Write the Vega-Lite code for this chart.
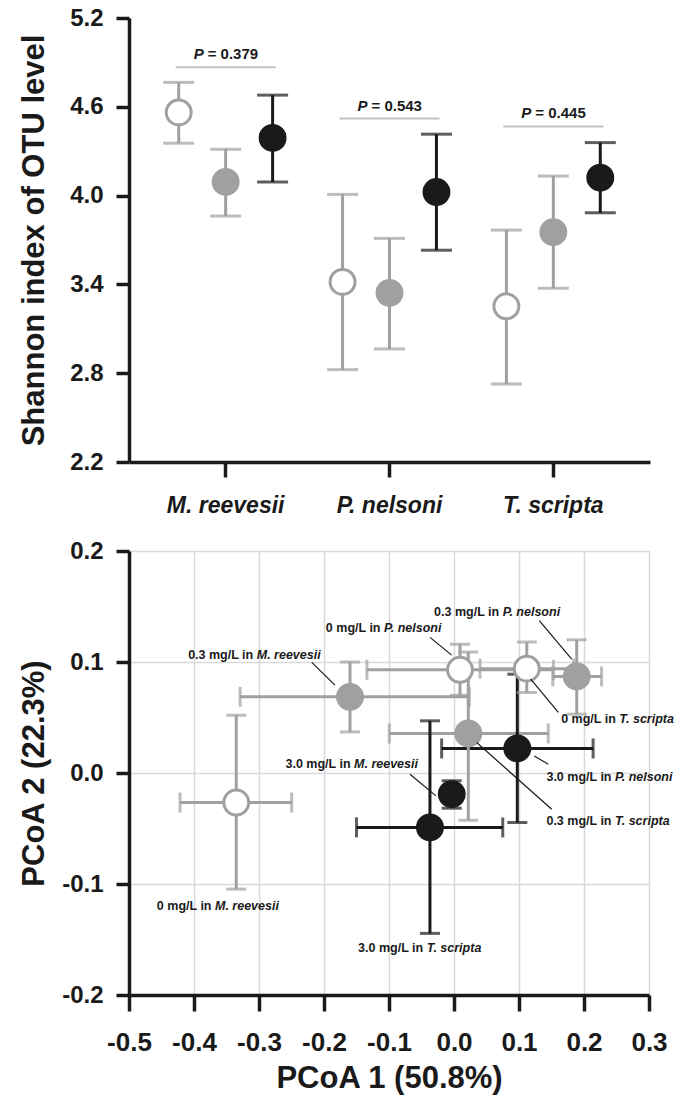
{
  "$schema": "https://vega.github.io/schema/vega-lite/v6.json",
  "padding": {"left": 18, "top": 6, "right": 10, "bottom": 4},
  "spacing": 89,
  "bounds": "flush",
  "config": {
    "font": "Liberation Sans",
    "view": {"stroke": null},
    "axis": {
      "domainColor": "#1a1a1a",
      "domainWidth": 3.5,
      "tickColor": "#1a1a1a",
      "tickWidth": 3.5,
      "labelColor": "#1a1a1a",
      "labelFontWeight": "bold",
      "titleColor": "#1a1a1a",
      "titleFontWeight": "bold",
      "labelFont": "Liberation Sans",
      "titleFont": "Liberation Sans",
      "labelFlush": false
    }
  },
  "datasets": {
    "shannon": [
      {"species": "M. reevesii", "group": "0 mg/L", "mean": 4.562, "lo": 4.354, "hi": 4.765},
      {"species": "M. reevesii", "group": "0.3 mg/L", "mean": 4.092, "lo": 3.862, "hi": 4.313},
      {"species": "M. reevesii", "group": "3.0 mg/L", "mean": 4.39, "lo": 4.092, "hi": 4.679},
      {"species": "P. nelsoni", "group": "0 mg/L", "mean": 3.417, "lo": 2.824, "hi": 4.008},
      {"species": "P. nelsoni", "group": "0.3 mg/L", "mean": 3.343, "lo": 2.964, "hi": 3.711},
      {"species": "P. nelsoni", "group": "3.0 mg/L", "mean": 4.024, "lo": 3.631, "hi": 4.415},
      {"species": "T. scripta", "group": "0 mg/L", "mean": 3.252, "lo": 2.727, "hi": 3.767},
      {"species": "T. scripta", "group": "0.3 mg/L", "mean": 3.753, "lo": 3.374, "hi": 4.132},
      {"species": "T. scripta", "group": "3.0 mg/L", "mean": 4.121, "lo": 3.884, "hi": 4.358}
    ],
    "pvals": [
      {"species": "M. reevesii", "ptext": "= 0.379", "line_y": 4.868, "text_y": 4.956},
      {"species": "P. nelsoni", "ptext": "= 0.543", "line_y": 4.521, "text_y": 4.606},
      {"species": "T. scripta", "ptext": "= 0.445", "line_y": 4.467, "text_y": 4.555}
    ],
    "pcoa": [
      {"name": "0 mg/L in M. reevesii", "group": "0 mg/L", "x": -0.335, "y": -0.0266, "xlo": -0.4215, "xhi": -0.2497, "ylo": -0.1046, "yhi": 0.052},
      {"name": "0.3 mg/L in M. reevesii", "group": "0.3 mg/L", "x": -0.16, "y": 0.0686, "xlo": -0.329, "xhi": 0.0235, "ylo": 0.037, "yhi": 0.1},
      {"name": "3.0 mg/L in M. reevesii", "group": "3.0 mg/L", "x": -0.0035, "y": -0.019, "xlo": -0.006, "xhi": -0.001, "ylo": -0.0317, "yhi": -0.007},
      {"name": "0 mg/L in P. nelsoni", "group": "0 mg/L", "x": 0.0092, "y": 0.093, "xlo": -0.134, "xhi": 0.153, "ylo": 0.07, "yhi": 0.116},
      {"name": "0.3 mg/L in P. nelsoni", "group": "0.3 mg/L", "x": 0.1888, "y": 0.087, "xlo": 0.152, "xhi": 0.227, "ylo": 0.053, "yhi": 0.12},
      {"name": "3.0 mg/L in P. nelsoni", "group": "3.0 mg/L", "x": 0.0974, "y": 0.0221, "xlo": -0.019, "xhi": 0.214, "ylo": -0.0446, "yhi": 0.089},
      {"name": "0 mg/L in T. scripta", "group": "0 mg/L", "x": 0.112, "y": 0.094, "xlo": 0.04, "xhi": 0.184, "ylo": 0.0725, "yhi": 0.118},
      {"name": "0.3 mg/L in T. scripta", "group": "0.3 mg/L", "x": 0.022, "y": 0.0356, "xlo": -0.0995, "xhi": 0.145, "ylo": -0.0426, "yhi": 0.109},
      {"name": "3.0 mg/L in T. scripta", "group": "3.0 mg/L", "x": -0.037, "y": -0.049, "xlo": -0.15, "xhi": 0.075, "ylo": -0.1445, "yhi": 0.047}
    ],
    "labels": [
      {"prefix": "0.3 mg/L in", "species": "M. reevesii", "lx": -0.3035, "ly": 0.1062},
      {"prefix": "0 mg/L in", "species": "P. nelsoni", "lx": -0.1077, "ly": 0.1303},
      {"prefix": "0.3 mg/L in", "species": "P. nelsoni", "lx": 0.0749, "ly": 0.1447},
      {"prefix": "0 mg/L in", "species": "T. scripta", "lx": 0.2543, "ly": 0.0485},
      {"prefix": "3.0 mg/L in", "species": "P. nelsoni", "lx": 0.2477, "ly": -0.0035},
      {"prefix": "0.3 mg/L in", "species": "T. scripta", "lx": 0.2477, "ly": -0.0432},
      {"prefix": "3.0 mg/L in", "species": "M. reevesii", "lx": -0.1538, "ly": 0.0079},
      {"prefix": "3.0 mg/L in", "species": "T. scripta", "lx": -0.042, "ly": -0.1574},
      {"prefix": "0 mg/L in", "species": "M. reevesii", "lx": -0.3677, "ly": -0.1196}
    ],
    "leaders": [
      {"x1": -0.2189, "y1": 0.0996, "x2": -0.1831, "y2": 0.0792},
      {"x1": -0.0369, "y1": 0.1222, "x2": -0.0035, "y2": 0.1062},
      {"x1": 0.1312, "y1": 0.1372, "x2": 0.1811, "y2": 0.1026},
      {"x1": 0.118, "y1": 0.0846, "x2": 0.1605, "y2": 0.0546},
      {"x1": 0.1235, "y1": 0.0154, "x2": 0.1451, "y2": 0.0079},
      {"x1": 0.0349, "y1": 0.0275, "x2": 0.1503, "y2": -0.0326},
      {"x1": -0.0677, "y1": -0.0011, "x2": -0.0277, "y2": -0.0206}
    ]
  },
  "vconcat": [
    {
      "width": 521,
      "height": 444,
      "layer": [
        {
          "data": {"name": "shannon"},
          "mark": {"type": "rule", "strokeWidth": 3},
          "encoding": {
            "x": {
              "field": "species", "type": "nominal",
              "sort": ["M. reevesii", "P. nelsoni", "T. scripta"],
              "scale": {"type": "band", "paddingInner": 0, "paddingOuter": 0.09},
              "axis": {"title": null, "labelAngle": 0, "labelFontSize": 23, "labelFontStyle": "italic", "tickSize": 15, "labelPadding": 17, "grid": false}
            },
            "xOffset": {"field": "group", "type": "nominal", "sort": ["0 mg/L", "0.3 mg/L", "3.0 mg/L"], "scale": {"type": "band", "paddingInner": 0, "paddingOuter": 0.245}},
            "y": {
              "field": "lo", "type": "quantitative",
              "scale": {"domain": [2.2, 5.2], "nice": false, "zero": false},
              "axis": {"title": "Shannon index of OTU level", "titleFontSize": 31, "labelFontSize": 24, "values": [2.2, 2.8, 3.4, 4.0, 4.6, 5.2], "format": ".1f", "tickSize": 13, "labelPadding": 13, "titlePadding": 19, "grid": false}
            },
            "y2": {"field": "hi"},
            "color": {"field": "group", "type": "nominal", "scale": {"domain": ["0 mg/L", "0.3 mg/L", "3.0 mg/L"], "range": ["#a0a0a0", "#a0a0a0", "#1a1a1a"]}, "legend": null}
          }
        },
        {
          "data": {"name": "shannon"},
          "mark": {"type": "tick", "orient": "horizontal", "size": 31, "thickness": 3},
          "encoding": {
            "x": {"field": "species", "type": "nominal"},
            "xOffset": {"field": "group", "type": "nominal"},
            "y": {"field": "lo", "type": "quantitative"},
            "color": {"field": "group", "type": "nominal", "legend": null}
          }
        },
        {
          "data": {"name": "shannon"},
          "mark": {"type": "tick", "orient": "horizontal", "size": 31, "thickness": 3},
          "encoding": {
            "x": {"field": "species", "type": "nominal"},
            "xOffset": {"field": "group", "type": "nominal"},
            "y": {"field": "hi", "type": "quantitative"},
            "color": {"field": "group", "type": "nominal", "legend": null}
          }
        },
        {
          "data": {"name": "shannon"},
          "mark": {"type": "point", "shape": "circle", "size": 620, "strokeWidth": 3, "filled": true, "opacity": 1},
          "encoding": {
            "x": {"field": "species", "type": "nominal"},
            "xOffset": {"field": "group", "type": "nominal"},
            "y": {"field": "mean", "type": "quantitative"},
            "fill": {"field": "group", "type": "nominal", "scale": {"domain": ["0 mg/L", "0.3 mg/L", "3.0 mg/L"], "range": ["#ffffff", "#a0a0a0", "#1a1a1a"]}, "legend": null},
            "stroke": {"field": "group", "type": "nominal", "scale": {"domain": ["0 mg/L", "0.3 mg/L", "3.0 mg/L"], "range": ["#a0a0a0", "#a0a0a0", "#1a1a1a"]}, "legend": null}
          }
        },
        {
          "data": {"name": "pvals"},
          "mark": {"type": "tick", "orient": "horizontal", "size": 100, "thickness": 2, "color": "#a8a8a8"},
          "encoding": {
            "x": {"field": "species", "type": "nominal"},
            "y": {"field": "line_y", "type": "quantitative"}
          }
        },
        {
          "data": {"name": "pvals"},
          "mark": {"type": "text", "fontSize": 15, "fontWeight": "bold", "fontStyle": "italic", "align": "left", "baseline": "middle", "dx": -32, "color": "#1a1a1a"},
          "encoding": {
            "x": {"field": "species", "type": "nominal"},
            "y": {"field": "text_y", "type": "quantitative"},
            "text": {"value": "P"}
          }
        },
        {
          "data": {"name": "pvals"},
          "mark": {"type": "text", "fontSize": 15, "fontWeight": "bold", "align": "left", "baseline": "middle", "dx": -18, "color": "#1a1a1a"},
          "encoding": {
            "x": {"field": "species", "type": "nominal"},
            "y": {"field": "text_y", "type": "quantitative"},
            "text": {"field": "ptext"}
          }
        }
      ]
    },
    {
      "width": 520,
      "height": 444,
      "layer": [
        {
          "data": {"name": "pcoa"},
          "mark": {"type": "rule", "strokeWidth": 3},
          "encoding": {
            "x": {
              "field": "xlo", "type": "quantitative",
              "scale": {"domain": [-0.5, 0.3], "nice": false, "zero": false},
              "axis": {"title": "PCoA 1 (50.8%)", "titleFontSize": 31, "labelFontSize": 26, "values": [-0.5, -0.4, -0.3, -0.2, -0.1, 0, 0.1, 0.2, 0.3], "labelExpr": "replace(format(datum.value, '.1f'), '\u2212', '-')", "tickSize": 16, "labelPadding": 18, "titlePadding": 8, "grid": true, "gridColor": "#d9d9d9", "gridWidth": 1.5}
            },
            "x2": {"field": "xhi"},
            "y": {
              "field": "y", "type": "quantitative",
              "scale": {"domain": [-0.2, 0.2], "nice": false, "zero": false},
              "axis": {"title": "PCoA 2 (22.3%)", "titleFontSize": 31, "labelFontSize": 24, "values": [-0.2, -0.1, 0, 0.1, 0.2], "labelExpr": "replace(format(datum.value, '.1f'), '\u2212', '-')", "tickSize": 13, "labelPadding": 13, "titlePadding": 11, "grid": true, "gridColor": "#d9d9d9", "gridWidth": 1.5}
            },
            "color": {"field": "group", "type": "nominal", "scale": {"domain": ["0 mg/L", "0.3 mg/L", "3.0 mg/L"], "range": ["#a0a0a0", "#a0a0a0", "#1a1a1a"]}, "legend": null}
          }
        },
        {
          "data": {"name": "pcoa"},
          "mark": {"type": "tick", "orient": "vertical", "size": 20, "thickness": 3},
          "encoding": {
            "x": {"field": "xlo", "type": "quantitative"},
            "y": {"field": "y", "type": "quantitative"},
            "color": {"field": "group", "type": "nominal", "legend": null}
          }
        },
        {
          "data": {"name": "pcoa"},
          "mark": {"type": "tick", "orient": "vertical", "size": 20, "thickness": 3},
          "encoding": {
            "x": {"field": "xhi", "type": "quantitative"},
            "y": {"field": "y", "type": "quantitative"},
            "color": {"field": "group", "type": "nominal", "legend": null}
          }
        },
        {
          "data": {"name": "pcoa"},
          "mark": {"type": "rule", "strokeWidth": 3},
          "encoding": {
            "x": {"field": "x", "type": "quantitative"},
            "y": {"field": "ylo", "type": "quantitative"},
            "y2": {"field": "yhi"},
            "color": {"field": "group", "type": "nominal", "legend": null}
          }
        },
        {
          "data": {"name": "pcoa"},
          "mark": {"type": "tick", "orient": "horizontal", "size": 20, "thickness": 3},
          "encoding": {
            "x": {"field": "x", "type": "quantitative"},
            "y": {"field": "ylo", "type": "quantitative"},
            "color": {"field": "group", "type": "nominal", "legend": null}
          }
        },
        {
          "data": {"name": "pcoa"},
          "mark": {"type": "tick", "orient": "horizontal", "size": 20, "thickness": 3},
          "encoding": {
            "x": {"field": "x", "type": "quantitative"},
            "y": {"field": "yhi", "type": "quantitative"},
            "color": {"field": "group", "type": "nominal", "legend": null}
          }
        },
        {
          "data": {"name": "pcoa"},
          "mark": {"type": "point", "shape": "circle", "size": 620, "strokeWidth": 3, "filled": true, "opacity": 1},
          "encoding": {
            "x": {"field": "x", "type": "quantitative"},
            "y": {"field": "y", "type": "quantitative"},
            "fill": {"field": "group", "type": "nominal", "scale": {"domain": ["0 mg/L", "0.3 mg/L", "3.0 mg/L"], "range": ["#ffffff", "#a0a0a0", "#1a1a1a"]}, "legend": null},
            "stroke": {"field": "group", "type": "nominal", "scale": {"domain": ["0 mg/L", "0.3 mg/L", "3.0 mg/L"], "range": ["#a0a0a0", "#a0a0a0", "#1a1a1a"]}, "legend": null}
          }
        },
        {
          "data": {"name": "leaders"},
          "mark": {"type": "rule", "strokeWidth": 1.2, "color": "#1a1a1a"},
          "encoding": {
            "x": {"field": "x1", "type": "quantitative"},
            "y": {"field": "y1", "type": "quantitative"},
            "x2": {"field": "x2"},
            "y2": {"field": "y2"}
          }
        },
        {
          "data": {"name": "labels"},
          "mark": {"type": "text", "fontSize": 12.5, "fontWeight": "bold", "align": "right", "baseline": "middle", "dx": -3.5, "color": "#1a1a1a"},
          "encoding": {
            "x": {"field": "lx", "type": "quantitative"},
            "y": {"field": "ly", "type": "quantitative"},
            "text": {"field": "prefix"}
          }
        },
        {
          "data": {"name": "labels"},
          "mark": {"type": "text", "fontSize": 12.5, "fontWeight": "bold", "fontStyle": "italic", "align": "left", "baseline": "middle", "color": "#1a1a1a"},
          "encoding": {
            "x": {"field": "lx", "type": "quantitative"},
            "y": {"field": "ly", "type": "quantitative"},
            "text": {"field": "species"}
          }
        }
      ]
    }
  ]
}
